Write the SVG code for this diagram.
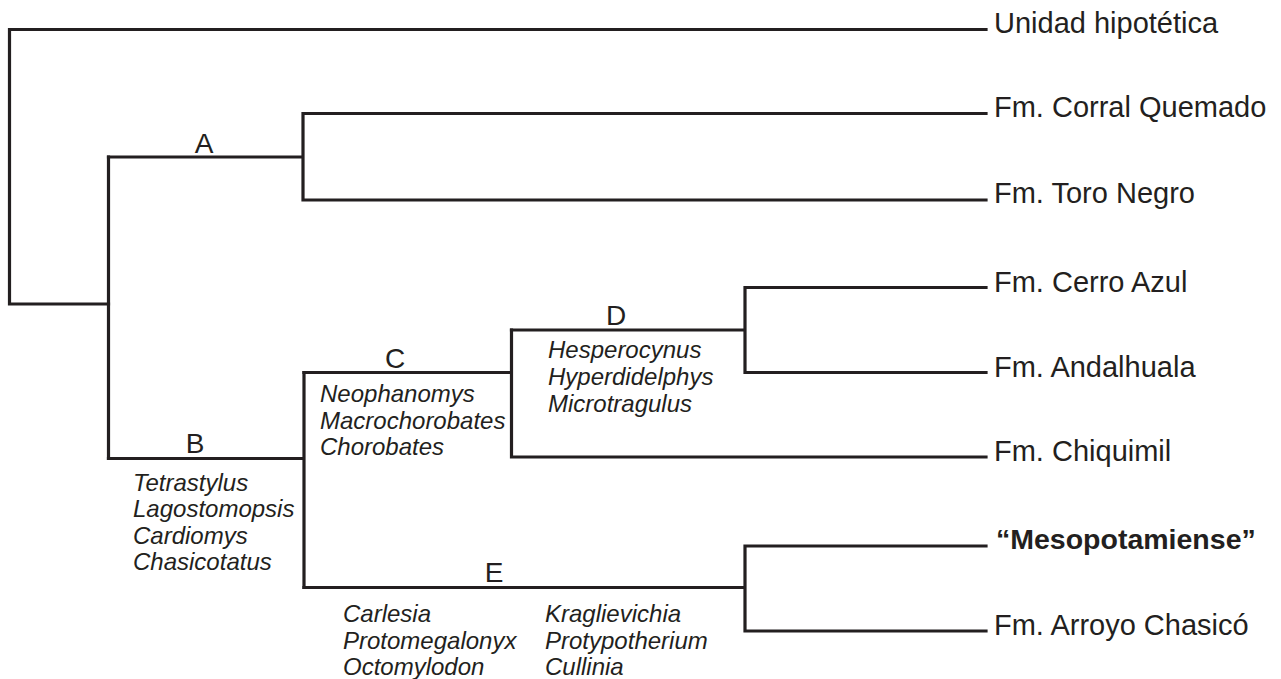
<svg xmlns="http://www.w3.org/2000/svg" width="1281" height="679" viewBox="0 0 1281 679">
<style>
.br{fill:none;stroke:#231f20;stroke-width:3.2;stroke-linecap:square;stroke-linejoin:miter}
.tx{font-family:"Liberation Sans",Arial,sans-serif;font-size:29px;fill:#231f20}
.lt{font-family:"Liberation Sans",Arial,sans-serif;font-size:28px;fill:#231f20;text-anchor:middle}
.sp{font-family:"Liberation Sans",Arial,sans-serif;font-size:24px;font-style:italic;fill:#231f20}
.bd{font-weight:bold;font-size:28.5px}
</style>
<rect width="1281" height="679" fill="#ffffff"/>
<g id="connectors">
<path class="br" d="M986,29.5 H9.5 V304 H108.5"/>
<path class="br" d="M108.5,157 V458.5"/>
<path class="br" d="M108.5,157 H303 M303,113.5 V200 M303,113.5 H986 M303,200 H986"/>
<path class="br" d="M108.5,458.5 H304 M304,372.5 V587.5"/>
<path class="br" d="M304,372.5 H511.5 M511.5,330 V457 M511.5,457 H986"/>
<path class="br" d="M511.5,330 H745 M745,287.5 V372.5 M745,287.5 H986 M745,372.5 H986"/>
<path class="br" d="M304,587.5 H745 M745,546 V631 M745,546 H986 M745,631 H986"/>
</g>
<g id="node-unidad"><text class="tx" x="994" y="33">Unidad hipotética</text></g>
<g id="node-corral"><text class="tx" x="994" y="117">Fm. Corral Quemado</text></g>
<g id="node-toro"><text class="tx" x="994" y="203">Fm. Toro Negro</text></g>
<g id="node-cerro"><text class="tx" x="994" y="291.5">Fm. Cerro Azul</text></g>
<g id="node-andalhuala"><text class="tx" x="994" y="376.5">Fm. Andalhuala</text></g>
<g id="node-chiquimil"><text class="tx" x="994" y="461">Fm. Chiquimil</text></g>
<g id="node-meso"><text class="tx bd" x="996" y="549">“Mesopotamiense”</text></g>
<g id="node-arroyo"><text class="tx" x="994" y="635">Fm. Arroyo Chasicó</text></g>
<g id="clade-A"><text class="lt" x="204" y="153">A</text></g>
<g id="clade-B"><text class="lt" x="195" y="453">B</text>
<text class="sp" x="133" y="491">Tetrastylus</text>
<text class="sp" x="133" y="517">Lagostomopsis</text>
<text class="sp" x="133" y="543.5">Cardiomys</text>
<text class="sp" x="133" y="570">Chasicotatus</text></g>
<g id="clade-C"><text class="lt" x="395" y="368">C</text>
<text class="sp" x="320" y="402">Neophanomys</text>
<text class="sp" x="320" y="428.5">Macrochorobates</text>
<text class="sp" x="320" y="455">Chorobates</text></g>
<g id="clade-D"><text class="lt" x="616" y="325">D</text>
<text class="sp" x="548" y="358">Hesperocynus</text>
<text class="sp" x="548" y="385">Hyperdidelphys</text>
<text class="sp" x="548" y="412">Microtragulus</text></g>
<g id="clade-E"><text class="lt" x="494" y="582">E</text>
<text class="sp" x="343" y="622">Carlesia</text>
<text class="sp" x="343" y="648.5">Protomegalonyx</text>
<text class="sp" x="343" y="675">Octomylodon</text>
<text class="sp" x="545" y="622">Kraglievichia</text>
<text class="sp" x="545" y="648.5">Protypotherium</text>
<text class="sp" x="545" y="675">Cullinia</text></g>
</svg>
